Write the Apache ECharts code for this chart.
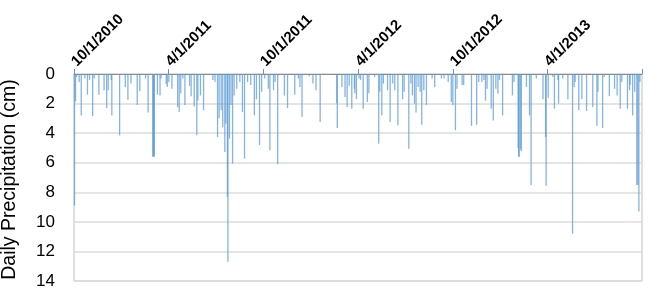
<!DOCTYPE html>
<html>
<head>
<meta charset="utf-8">
<script src="https://cdn.jsdelivr.net/npm/echarts@6/dist/echarts.min.js"></script>
<style>html,body{margin:0;padding:0;background:#fff}#c{width:650px;height:291px}</style>
</head>
<body>
<div id="c"></div>
<script>
// Day offsets from 10/1/2010 and daily precipitation (cm)
const dayOffsets = [1,3,5,10,14,21,26,30,36,39,48,58,63,66,72,73,88,99,104,110,122,127,138,143,152,153,154,155,161,166,168,178,
180,183,189,200,203,206,210,214,223,226,232,237,239,244,250,268,272,277,280,284,287,291,293,296,297,300,303,306,309,314,320,325,329,335,341,348,352,358,362,
368,375,378,385,388,393,406,412,426,433,436,440,454,461,467,475,507,508,517,523,527,531,536,541,
542,545,550,553,558,566,569,580,588,590,594,597,605,610,615,619,625,634,637,646,650,653,657,660,664,668,671,675,680,691,696,709,714,722,
728,731,736,739,749,752,767,777,781,787,791,794,797,805,809,814,818,821,827,846,849,857,858,859,862,863,873,879,882,892,
905,910,911,915,924,927,934,935,943,953,962,965,967,974,980,989,1001,1009,1011,1020,1023,1033,1043,1048,1054,1057,1068,1072,1073,1078,1082,1086,1088,1090,1092];
const precip = [8.9,1.85,0.2,0.54,2.8,0.3,1.4,0.4,2.84,0.3,1.4,1.1,2.3,1.1,0.4,2.8,4.15,0.88,1.74,0.65,2.1,1.17,0.3,2.6,5.6,5.6,5.5,5.6,1.4,1.45,0.3,0.7,
0.88,0.54,1.0,2.23,2.57,1.3,0.3,2.1,0.8,1.5,2.2,4.15,1.8,1.45,2.46,0.4,0.54,4.26,3.0,2.46,3.6,5.27,3.36,8.3,12.7,4.37,2.1,6.06,1.45,1.0,0.54,2.57,5.72,0.54,0.75,2.8,1.7,4.8,1.2,
0.3,1.0,5.16,1.1,0.54,6.1,1.46,2.3,1.4,0.3,0.88,2.9,0.15,0.65,1.1,3.25,2.0,3.65,0.88,1.55,2.23,0.8,2.35,1.0,
1.3,1.7,0.3,0.4,2.35,1.9,1.3,0.2,4.71,1.2,2.8,0.65,1.1,3.25,0.65,1.1,3.47,1.7,1.2,5.05,0.65,1.45,2.0,2.6,0.88,1.2,3.43,1.1,2.1,0.3,0.88,0.3,0.3,0.54,
1.9,2.1,3.8,1.0,0.75,0.75,3.5,3.43,0.54,0.54,0.4,1.8,1.0,2.35,3.14,1.0,1.33,0.4,2.8,1.45,0.54,5.0,5.6,5.6,5.1,5.2,0.88,2.8,7.5,0.3,
1.7,4.26,7.55,1.6,0.2,2.35,0.4,2.0,0.3,1.7,10.8,0.88,0.54,2.46,1.7,2.5,2.23,3.5,1.2,3.65,0.2,1.5,1.0,1.45,2.35,0.54,2.35,1.1,0.75,2.8,1.2,7.5,7.5,9.3,0.54];
const tickOffsets = [0,182,365,548,731,913,1096];
const tickLabels = ['10/1/2010','4/1/2011','10/1/2011','4/1/2012','10/1/2012','4/1/2013',''];
const yTicks = [0,2,4,6,8,10,12,14];

const data = dayOffsets.map((d,i)=>[d, precip[i]]);
const chart = echarts.init(document.getElementById('c'));
chart.setOption({
  animation:false,
  grid:{left:74,right:8,top:74,bottom:10,show:true,borderColor:'#bfbfbf',borderWidth:1,
    containLabel:false,outerBoundsMode:'none'},
  xAxis:{
    type:'value', position:'top', min:0, max:1096,
    axisLine:{show:true,lineStyle:{color:'#8c8c8c',width:1}},
    axisTick:{show:true,customValues:tickOffsets,length:5,lineStyle:{color:'#8c8c8c'}},
    axisLabel:{customValues:tickOffsets.slice(0,6),rotate:45,fontSize:15,fontWeight:'bold',color:'#000',
      fontFamily:'Liberation Sans',margin:10,
      formatter:(v)=>tickLabels[tickOffsets.indexOf(v)]},
    splitLine:{show:false}
  },
  yAxis:{
    type:'value', inverse:true, min:0, max:14, interval:2,
    name:'Daily Precipitation (cm)', nameLocation:'middle', nameGap:54,
    nameTextStyle:{fontSize:19.5,color:'#000',fontFamily:'Liberation Sans',padding:[0,0,0,-4]},
    axisLine:{show:false}, axisTick:{show:false},
    axisLabel:{fontSize:17,color:'#000',fontFamily:'Liberation Sans',margin:19,
      formatter:(v)=>yTicks.includes(v)?String(v):''},
    splitLine:{show:true,lineStyle:{color:'#dcdcdc',width:1.5}}
  },
  series:[{type:'bar',data:data,barWidth:1.3,itemStyle:{color:'#5b9bd5',opacity:0.75}}]
});
</script>
</body>
</html>
